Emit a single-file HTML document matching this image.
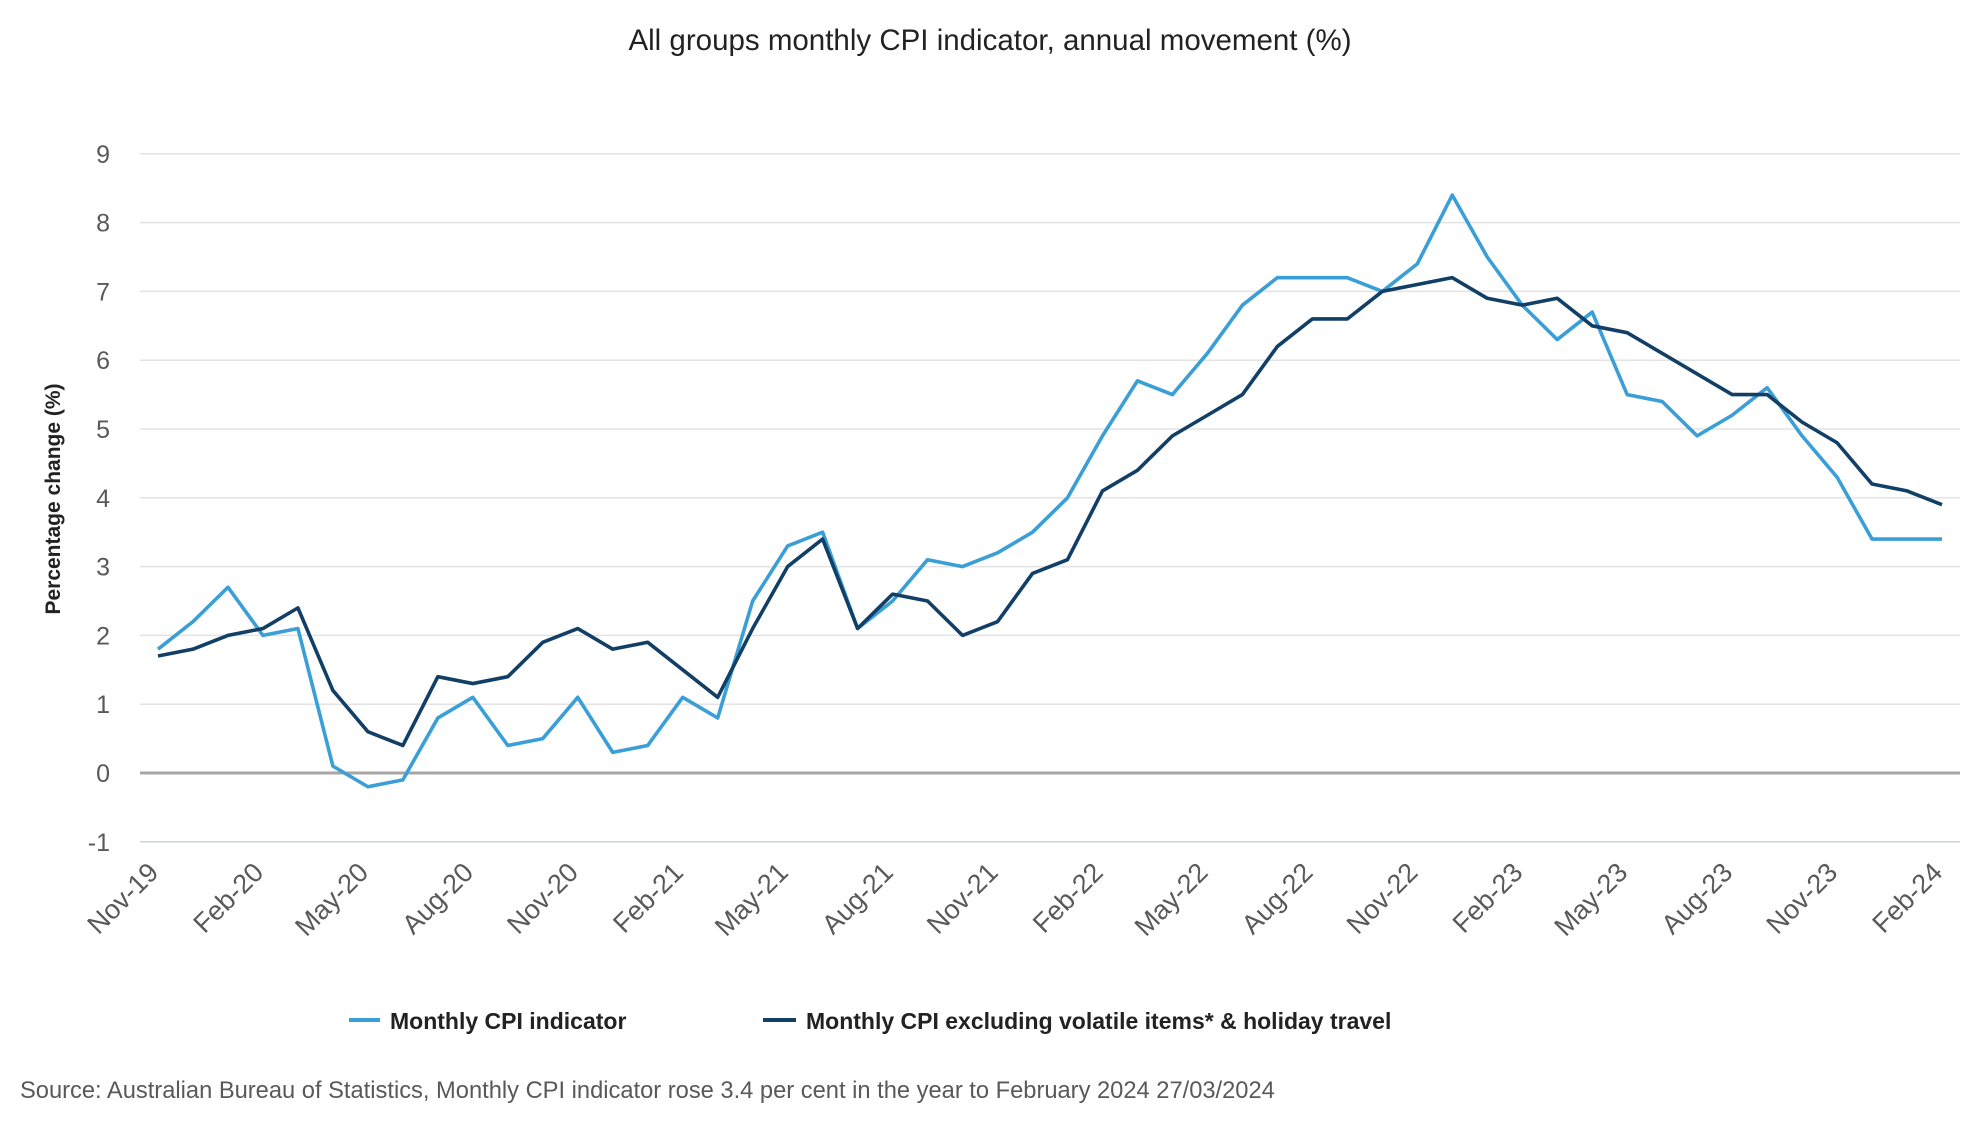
<!DOCTYPE html>
<html><head><meta charset="utf-8"><style>
body{margin:0;background:#fff;width:1980px;height:1140px;overflow:hidden;font-family:"Liberation Sans",sans-serif}
</style></head><body>
<svg id="chart" width="1980" height="1140" xmlns="http://www.w3.org/2000/svg" font-family="Liberation Sans, sans-serif">
<text x="990" y="50" text-anchor="middle" font-size="29.5" fill="#222">All groups monthly CPI indicator, annual movement (%)</text>
<g id="grid"></g><g id="yticks"></g><g id="xticks"></g><g id="lines"></g>
<text transform="translate(60,499) rotate(-90)" text-anchor="middle" font-size="21" font-weight="bold" fill="#222">Percentage change (%)</text>
<g>
<line x1="349" y1="1020" x2="380" y2="1020" stroke="#3a9fd6" stroke-width="4"/>
<text x="390" y="1029" font-size="23" font-weight="bold" fill="#222">Monthly CPI indicator</text>
<line x1="763" y1="1020" x2="796" y2="1020" stroke="#123f66" stroke-width="4"/>
<text x="806" y="1029" font-size="23" font-weight="bold" fill="#222">Monthly CPI excluding volatile items* &amp; holiday travel</text>
</g>
<text x="20" y="1098" font-size="23.7" fill="#595959">Source: Australian Bureau of Statistics, Monthly CPI indicator rose 3.4 per cent in the year to February 2024 27/03/2024</text>
</svg>
<script>
const months = ["Nov-19","Dec-19","Jan-20","Feb-20","Mar-20","Apr-20","May-20","Jun-20","Jul-20","Aug-20","Sep-20","Oct-20","Nov-20","Dec-20","Jan-21","Feb-21","Mar-21","Apr-21","May-21","Jun-21","Jul-21","Aug-21","Sep-21","Oct-21","Nov-21","Dec-21","Jan-22","Feb-22","Mar-22","Apr-22","May-22","Jun-22","Jul-22","Aug-22","Sep-22","Oct-22","Nov-22","Dec-22","Jan-23","Feb-23","Mar-23","Apr-23","May-23","Jun-23","Jul-23","Aug-23","Sep-23","Oct-23","Nov-23","Dec-23","Jan-24","Feb-24"];
const cpiValues = [1.8,2.2,2.7,2.0,2.1,0.1,-0.2,-0.1,0.8,1.1,0.4,0.5,1.1,0.3,0.4,1.1,0.8,2.5,3.3,3.5,2.1,2.5,3.1,3.0,3.2,3.5,4.0,4.9,5.7,5.5,6.1,6.8,7.2,7.2,7.2,7.0,7.4,8.4,7.5,6.8,6.3,6.7,5.5,5.4,4.9,5.2,5.6,4.9,4.3,3.4,3.4,3.4];
const exclValues = [1.7,1.8,2.0,2.1,2.4,1.2,0.6,0.4,1.4,1.3,1.4,1.9,2.1,1.8,1.9,1.5,1.1,2.1,3.0,3.4,2.1,2.6,2.5,2.0,2.2,2.9,3.1,4.1,4.4,4.9,5.2,5.5,6.2,6.6,6.6,7.0,7.1,7.2,6.9,6.8,6.9,6.5,6.4,6.1,5.8,5.5,5.5,5.1,4.8,4.2,4.1,3.9];
const yTicks = [-1,0,1,2,3,4,5,6,7,8,9];
const xTickLabels = ["Nov-19","Feb-20","May-20","Aug-20","Nov-20","Feb-21","May-21","Aug-21","Nov-21","Feb-22","May-22","Aug-22","Nov-22","Feb-23","May-23","Aug-23","Nov-23","Feb-24"];

const NS="http://www.w3.org/2000/svg";
const X0=158,X1=1942,Y0=773,PER=68.8,L=140,R=1960;
const xs=i=>X0+(X1-X0)*i/(months.length-1);
const ys=v=>Y0-v*PER;
function mk(tag,attrs,parent){const e=document.createElementNS(NS,tag);for(const k in attrs)e.setAttribute(k,attrs[k]);document.getElementById(parent).appendChild(e);return e;}
yTicks.forEach(v=>{
  const g=mk('line',{x1:L,x2:R,y1:ys(v),y2:ys(v),stroke:v===0?'#a6a6a6':(v===-1?'#c9d5e6':'#e3e3e3'),'stroke-width':v===0?3:1.5},'grid');
  
  
  const t=mk('text',{x:110,y:ys(v)+9,'text-anchor':'end','font-size':25,fill:'#595959'},'yticks');
  t.textContent=v;
  
  
});
xTickLabels.forEach(lab=>{
  const i=months.indexOf(lab);
  const t=mk('text',{transform:`translate(${xs(i)+2},${874}) rotate(-45)`,'text-anchor':'end','font-size':27,fill:'#595959'},'xticks');
  t.textContent=lab;
  
  
});
function series(vals,color,name){
  const p=mk('polyline',{points:vals.map((v,i)=>xs(i)+','+ys(v)).join(' '),fill:'none',stroke:color,'stroke-width':3.6,'stroke-linejoin':'round'},'lines');
  
  
}
series(cpiValues,'#3a9fd6','line-monthly-cpi');
series(exclValues,'#123f66','line-excluding-volatile');
</script>
</body></html>
